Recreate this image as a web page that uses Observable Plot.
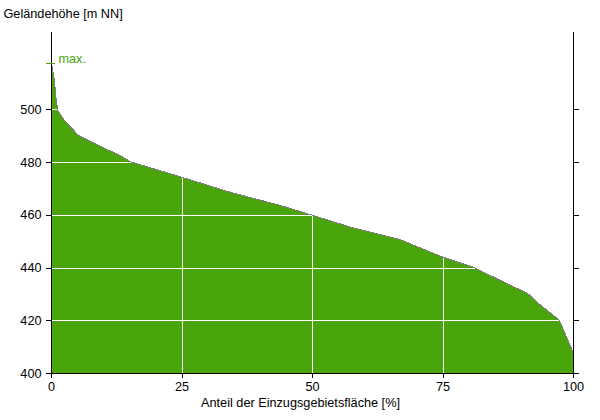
<!DOCTYPE html>
<html>
<head>
<meta charset="utf-8">
<script src="https://cdn.jsdelivr.net/npm/d3@7"></script>
<script src="https://cdn.jsdelivr.net/npm/@observablehq/plot@0.6"></script>
<style>
  html, body { margin: 0; padding: 0; background: #fff; }
  svg { shape-rendering: crispEdges; }
</style>
</head>
<body>
<div id="chart"></div>
<script>
// Hypsometric curve: share of catchment area [%] vs. terrain elevation [m NN]
const areaShare = [0, 0.13, 0.57, 0.82, 1.2, 2.5, 4.3, 5.2, 9.1, 13.2, 15.1, 25, 34.3, 43.9, 50, 57.3, 66.9, 75, 80.8, 86.0, 91.2, 93.7, 97.3, 100];
const elevation = [517.6, 516.0, 511.0, 505.3, 499.6, 495.9, 492.1, 490.2, 486.4, 482.6, 480.3, 474.4, 468.7, 463.7, 460.0, 455.5, 450.7, 444.1, 440.3, 435.3, 430.4, 425.9, 420.2, 407.6];
const maxElevation = 517.6;
const yTicks = [400, 420, 440, 460, 480, 500];
const xTicks = [0, 25, 50, 75, 100];
const gridY = [420, 440, 460, 480, 500];
const gridX = [25, 50, 75];
const yLabel = "Geländehöhe [m NN]";
const xLabel = "Anteil der Einzugsgebietsfläche [%]";
const maxLabel = "max.";

const green = "#49a509";
const fs = 12.7;
const data = areaShare.map((x, i) => ({x, y: elevation[i]}));

const chart = Plot.plot({
  width: 600,
  height: 420,
  marginLeft: 51,
  marginRight: 27,
  marginTop: 32,
  marginBottom: 47,
  style: {fontFamily: "'Liberation Sans', Arial, sans-serif", fontSize: fs + "px", color: "#000", background: "#fff"},
  x: {domain: [0, 100]},
  y: {domain: [400, 529.3]},
  marks: [
    Plot.areaY(data, {x: "x", y1: 400, y2: "y", fill: green}),
    Plot.ruleY(gridY, {stroke: "white", strokeWidth: 1}),
    Plot.ruleX(gridX, {stroke: "white", strokeWidth: 1}),
    Plot.lineY(data, {x: "x", y: "y", stroke: "#7f7f7f", strokeWidth: 1}),
    Plot.axisY({anchor: "left", ticks: yTicks, tickSize: 5, tickPadding: 5, label: null, fontSize: fs}),
    Plot.axisY({anchor: "right", ticks: yTicks, tickSize: 5, tickFormat: () => "", label: null}),
    Plot.axisX({anchor: "bottom", ticks: xTicks, tickSize: 5, tickPadding: 3, label: null, fontSize: fs}),
    Plot.ruleX([0, 100], {stroke: "#000"}),
    Plot.ruleY([400], {stroke: "#000"}),
    Plot.ruleY([maxElevation], {x1: -1, x2: 0.8, stroke: green, strokeWidth: 1}),
    Plot.text([maxLabel], {x: 0, y: maxElevation, text: d => d, dx: 7, dy: -4, textAnchor: "start", lineAnchor: "middle", fill: green, fontSize: fs}),
    Plot.text([yLabel], {frameAnchor: "top-left", text: d => d, dx: -48, dy: -19, textAnchor: "start", lineAnchor: "middle", fill: "#000", fontSize: fs}),
    Plot.text([xLabel], {frameAnchor: "bottom", text: d => d, dx: -12, dy: 29, textAnchor: "middle", lineAnchor: "middle", fill: "#000", fontSize: fs})
  ]
});
document.getElementById("chart").append(chart);
</script>
</body>
</html>
